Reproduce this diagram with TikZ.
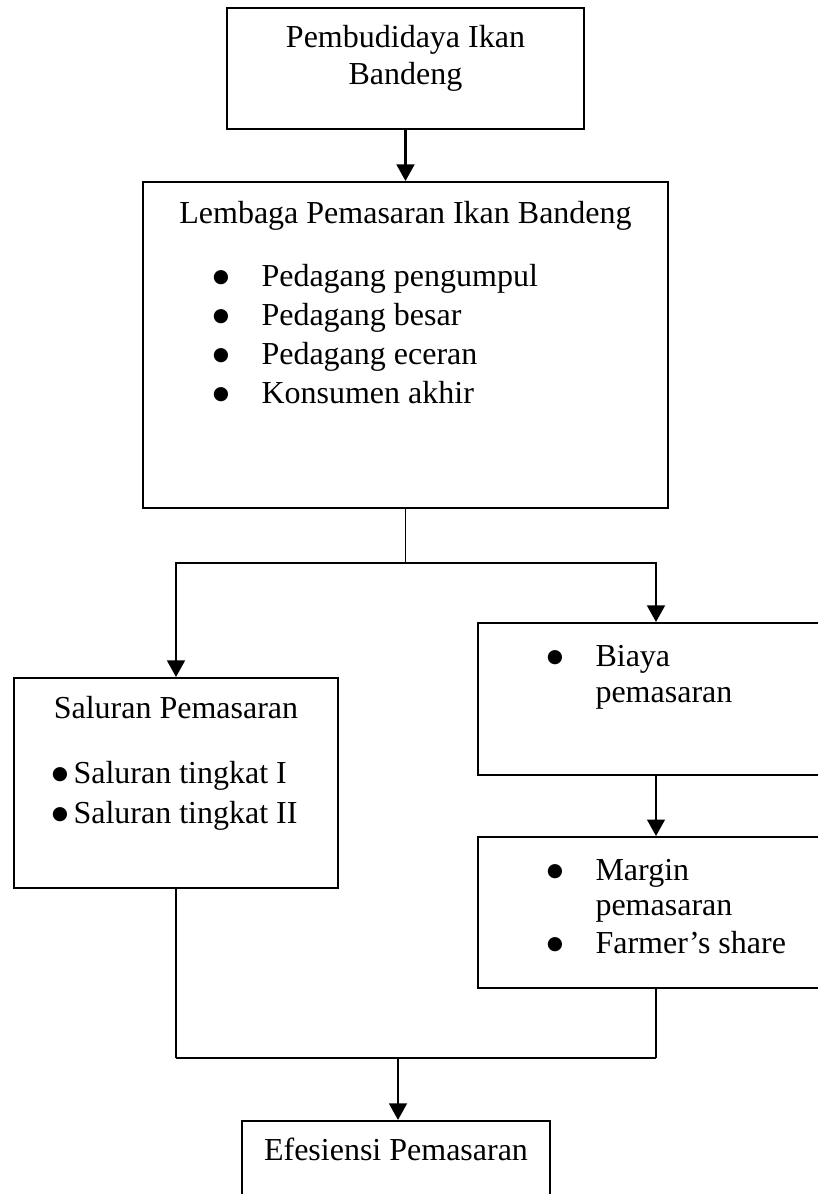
\documentclass[tikz,border=0pt]{standalone}
\usepackage{fontspec}
\setmainfont{Liberation Serif}
\newfontfamily\symbole{DejaVu Sans}
\usetikzlibrary{arrows.meta}

\newcommand{\puce}{{\symbole\fontsize{7}{8}\selectfont\raisebox{1.2pt}{●}}}

\tikzset{
  boite/.style={draw, line width=0.75pt, inner sep=0pt},
  texte/.style={inner sep=0pt, font=\fontsize{12}{14}\selectfont},
  fleche/.style={line width=1pt, -{Triangle[width=6.6pt,length=6.2pt]}},
  trait/.style={line width=0.5pt},
}

\begin{document}
\begin{tikzpicture}[x=0.375pt,y=-0.375pt]

\useasboundingbox (0,0) rectangle (818,1194);
\clip (0,0) rectangle (818,1194);

    % boites
    \node[boite, minimum width=133.9pt, minimum height=45.4pt] (pembudidaya) at (405.5,68.5) {};
    \node[boite, minimum width=196.9pt, minimum height=122.25pt] (lembaga) at (405.5,345) {};
    \node[boite, minimum width=121.5pt, minimum height=78.75pt] (saluran) at (176,783) {};
    \node[boite, minimum width=133.5pt, minimum height=57pt] (biaya) at (656,699) {};
    \node[boite, minimum width=133.5pt, minimum height=56.6pt] (margin) at (656,912.5) {};
    \node[boite, minimum width=115.5pt, minimum height=40.9pt] (efesiensi) at (396,1175.5) {};

    % textes
    \node[texte, anchor=base] (pembudidaya1) at (405.5,47) {Pembudidaya Ikan};
    \node[texte, anchor=base] (pembudidaya2) at (405.5,84) {Bandeng};

    \node[texte, anchor=base] (lembagaT) at (405.5,223) {Lembaga Pemasaran Ikan Bandeng};
    \foreach \t [count=\i] in {Pedagang pengumpul, Pedagang besar, Pedagang eceran, Konsumen akhir}{
        \node[texte, anchor=base] (pointL\i) at (221,{286+39*(\i-1)}) {\puce};
        \node[texte, anchor=base west] (pedagang\i) at (261,{286+39*(\i-1)}) {\t};
    }

    \node[texte, anchor=base] (saluranT) at (176,718) {Saluran Pemasaran};
    \foreach \t [count=\i] in {I, II}{
        \node[texte, anchor=base] (pointS\i) at (60,{783+40*(\i-1)}) {\puce};
        \node[texte, anchor=base west] (tingkat\i) at (73,{783+40*(\i-1)}) {Saluran tingkat \t};
    }

    \node[texte, anchor=base] (pointB) at (555,666) {\puce};
    \node[texte, anchor=base west] (biaya1) at (595,666) {Biaya};
    \node[texte, anchor=base west] (biaya2) at (595,702) {pemasaran};

    \node[texte, anchor=base] (pointM1) at (555,880) {\puce};
    \node[texte, anchor=base west] (margin1) at (595,880) {Margin};
    \node[texte, anchor=base west] (margin2) at (595,915) {pemasaran};
    \node[texte, anchor=base] (pointM2) at (555,953) {\puce};
    \node[texte, anchor=base west] (farmer) at (595,953) {Farmer’s share};

    \node[texte, anchor=base] (efesiensiT) at (396,1160) {Efesiensi Pemasaran};

    % liaisons
    \draw[fleche] (pembudidaya.south) -- (lembaga.north);

    \coordinate (cabang) at (407,563);
    \draw[trait] (lembaga.south) -- (lembaga.south |- cabang);
    \draw[fleche] (lembaga.south |- cabang) -| (saluran.north);
    \draw[fleche] (lembaga.south |- cabang) -| (biaya.north);

    \draw[fleche] (biaya.south) -- (margin.north);

    \coordinate (gabung) at (398,1058);
    \draw[trait] (saluran.south) -- (saluran.south |- gabung);
    \draw[trait] (margin.south) -- (margin.south |- gabung);
    \draw[line width=0.75pt] (saluran.south |- gabung) -- (margin.south |- gabung);
    \draw[fleche] (gabung) -- (gabung |- efesiensi.north);

\end{tikzpicture}
\end{document}
